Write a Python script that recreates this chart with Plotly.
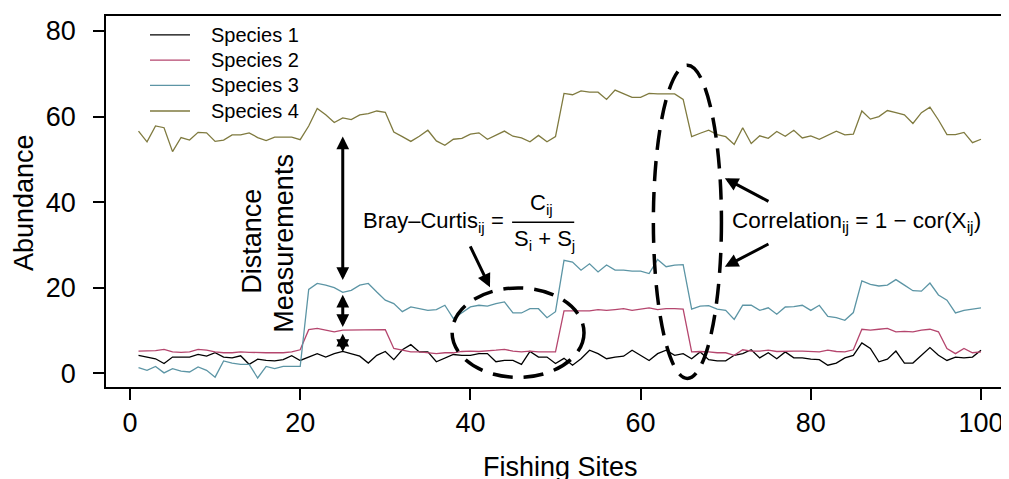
import plotly.graph_objects as go

sites = list(range(1, 101))

species1 = [4.2, 3.8, 3.4, 2.3, 3.8, 3.8, 3.8, 4.4, 4.0, 4.8,
            3.8, 3.6, 4.1, 2.1, 3.3, 3.0, 2.9, 3.2, 4.1, 3.0,
            3.8, 4.6, 3.8, 4.6, 5.1, 4.6, 4.0, 2.4, 4.2, 5.1,
            3.2, 5.5, 6.7, 5.0, 5.0, 2.7, 3.6, 4.4, 4.2, 4.2,
            4.6, 4.6, 2.7, 3.0, 3.0, 2.1, 5.1, 3.8, 3.8, 2.3,
            3.5, 1.9, 3.4, 5.4, 4.6, 3.4, 3.8, 4.0, 5.4, 4.2,
            3.0, 4.6, 5.4, 4.2, 4.6, 3.4, 5.0, 3.2, 2.9, 2.9,
            4.2, 4.6, 5.5, 3.6, 4.8, 3.4, 5.0, 3.6, 3.6, 3.3,
            3.2, 1.9, 2.4, 3.6, 4.2, 7.1, 5.8, 2.7, 3.3, 5.2,
            2.4, 2.4, 4.2, 6.0, 4.2, 3.0, 3.8, 3.6, 3.8, 5.4]

species2 = [5.2, 5.2, 5.3, 5.6, 5.0, 4.9, 5.0, 5.6, 5.4, 5.0,
            4.8, 4.8, 5.0, 4.9, 4.8, 4.8, 4.8, 4.8, 5.0, 5.5,
            10.2, 10.5, 10.1, 9.7, 10.1, 10.1, 10.1, 10.1, 10.1, 10.2,
            5.8, 5.4, 5.0, 5.0, 4.8, 4.6, 4.8, 4.8, 5.1, 5.2,
            5.1, 5.2, 5.4, 5.6, 5.2, 5.0, 5.2, 5.0, 5.0, 5.0,
            14.6, 14.6, 14.7, 14.6, 14.9, 14.7, 14.9, 15.1, 14.7, 15.0,
            15.3, 14.9, 15.1, 15.1, 15.0, 5.0, 5.1, 5.0, 4.8, 4.8,
            4.2, 5.5, 5.2, 5.2, 5.4, 5.1, 5.2, 5.2, 5.2, 5.1,
            5.0, 5.4, 5.1, 5.0, 5.5, 10.3, 10.1, 10.3, 10.5, 9.7,
            9.8, 9.7, 10.1, 10.3, 9.7, 5.8, 4.6, 5.8, 4.8, 5.0]

species3 = [1.3, 0.7, 1.6, 0.1, 1.1, 0.5, 0.3, 1.5, 0.7, -0.9,
            2.9, 2.4, 2.1, 2.1, -1.1, 1.6, 1.1, 1.6, 1.6, 1.6,
            19.6, 21.0, 20.6, 20.0, 18.9, 19.4, 20.6, 21.0, 19.0, 17.1,
            16.3, 14.4, 15.5, 15.1, 14.7, 14.9, 15.9, 12.8, 14.1, 15.5,
            15.9, 15.7, 16.3, 16.7, 14.1, 14.1, 15.1, 15.1, 13.0, 14.4,
            26.4, 26.0, 24.1, 25.6, 23.7, 25.3, 24.1, 24.1, 23.9, 23.9,
            23.3, 26.6, 24.9, 25.3, 25.4, 15.0, 15.7, 15.8, 15.0, 14.7,
            12.6, 15.9, 15.9, 14.7, 15.3, 13.8, 15.5, 15.6, 15.9, 14.7,
            15.9, 13.3, 13.0, 12.4, 14.2, 21.6, 20.8, 20.4, 20.6, 21.9,
            20.6, 19.3, 19.2, 21.1, 18.3, 17.1, 14.1, 14.7, 15.0, 15.3]

species4 = [56.6, 54.1, 57.8, 57.4, 51.8, 55.1, 54.5, 56.3, 56.2, 54.2,
            54.5, 55.7, 55.7, 56.2, 55.1, 54.4, 55.2, 55.2, 55.2, 54.6,
            57.8, 61.9, 60.4, 58.6, 59.7, 59.3, 60.4, 60.7, 61.3, 61.0,
            56.4, 55.3, 54.2, 55.4, 56.8, 54.3, 53.3, 54.7, 54.9, 55.9,
            56.2, 54.7, 55.6, 56.6, 55.4, 55.0, 54.1, 55.6, 54.1, 55.3,
            65.4, 65.1, 66.0, 65.7, 65.7, 64.0, 66.2, 65.4, 64.5, 64.5,
            65.4, 65.3, 65.3, 65.3, 64.0, 55.3, 56.1, 56.8, 55.8, 55.3,
            53.5, 57.4, 53.7, 55.5, 54.9, 56.5, 55.4, 56.8, 55.0, 55.5,
            54.7, 55.6, 56.6, 55.7, 55.9, 61.3, 59.4, 60.0, 61.4, 60.9,
            60.4, 58.4, 60.9, 62.2, 59.2, 55.8, 55.8, 56.3, 53.9, 54.7]

series_names = ["Species 1", "Species 2", "Species 3", "Species 4"]
series_values = [species1, species2, species3, species4]
series_colors = ["#000000", "#B5466E", "#5C95A5", "#7F7A3F"]

x_ticks = [0, 20, 40, 60, 80, 100]
y_ticks = [0, 20, 40, 60, 80]

FONT = "Liberation Sans, Arial, Helvetica, sans-serif"

fig = go.Figure()
for name, vals, col in zip(series_names, series_values, series_colors):
    fig.add_trace(go.Scatter(x=sites, y=vals, mode="lines", name=name,
                             line=dict(color=col, width=1.3), showlegend=False))

# manual legend (R style)
leg_y = [79.1, 73.2, 67.3, 61.3]
for name, col, yy in zip(series_names, series_colors, leg_y):
    fig.add_shape(type="line", x0=2.35, x1=7.05, y0=yy, y1=yy, xref="x", yref="y",
                  line=dict(color=col, width=1.3))
    fig.add_annotation(x=9.3, y=yy, xref="x", yref="y", text=name, showarrow=False,
                       xanchor="left", yanchor="middle",
                       font=dict(family=FONT, size=20, color="black"))

# dashed ellipses
fig.add_shape(type="circle", xref="x", yref="y", x0=45.6 - 7.75, x1=45.6 + 7.75,
              y0=9.5 - 10.45, y1=9.5 + 10.45,
              line=dict(color="black", width=3.5, dash="20px,11px"))
fig.add_shape(type="circle", xref="x", yref="y", x0=65.5 - 4.0, x1=65.5 + 4.0,
              y0=35.4 - 36.6, y1=35.4 + 36.6,
              line=dict(color="black", width=3.5, dash="20px,11px"))

# double-headed arrows (distance measurements)
for y_top, y_bot in [(55.7, 21.8), (18.7, 10.8), (9.6, 5.0)]:
    fig.add_annotation(x=25, y=y_bot, ax=25, ay=y_top, xref="x", yref="y",
                       axref="x", ayref="y", text="", showarrow=True,
                       arrowhead=2, startarrowhead=2, arrowside="end+start",
                       arrowsize=0.85, startarrowsize=0.85, arrowwidth=3, arrowcolor="black")

# single arrows
for tip, tail in [((42.3, 20.1), (39.9, 30.0)),
                  ((69.9, 45.6), (75.2, 40.0)),
                  ((69.9, 24.9), (75.2, 30.4))]:
    fig.add_annotation(x=tip[0], y=tip[1], ax=tail[0], ay=tail[1], xref="x", yref="y",
                       axref="x", ayref="y", text="", showarrow=True,
                       arrowhead=2, arrowsize=0.9, arrowwidth=3, arrowcolor="black")

# Distance Measurements text
fig.add_annotation(x=14.3, y=30.9, xref="x", yref="y", text="Distance", showarrow=False,
                   textangle=-90, font=dict(family=FONT, size=27, color="black"))
fig.add_annotation(x=18.1, y=30.3, xref="x", yref="y", text="Measurements", showarrow=False,
                   textangle=-90, font=dict(family=FONT, size=27, color="black"))

# Bray-Curtis formula
fig.add_annotation(x=44.2, y=35.4, xref="x", yref="y", text="Bray–Curtis<sub>ij</sub> =",
                   showarrow=False, xanchor="right", yanchor="middle",
                   font=dict(family=FONT, size=22, color="black"))
fig.add_shape(type="line", xref="x", yref="y", x0=44.9, x1=52.2, y0=35.3, y1=35.3,
              line=dict(color="black", width=1.5))
fig.add_annotation(x=48.4, y=39.5, xref="x", yref="y", text="C<sub>ij</sub>",
                   showarrow=False, font=dict(family=FONT, size=22, color="black"))
fig.add_annotation(x=48.7, y=31.1, xref="x", yref="y", text="S<sub>i</sub> + S<sub>j</sub>",
                   showarrow=False, font=dict(family=FONT, size=22, color="black"))

# Correlation formula
fig.add_annotation(x=70.5, y=35.4, xref="x", yref="y",
                   text="Correlation<sub>ij</sub> = 1 − cor(X<sub>ij</sub>)",
                   showarrow=False, xanchor="left", yanchor="middle",
                   font=dict(family=FONT, size=22.5, color="black"))

# axis titles
fig.add_annotation(x=50.6, y=-0.215, xref="x", yref="paper", text="Fishing Sites",
                   showarrow=False, xanchor="center", yanchor="middle",
                   font=dict(family=FONT, size=27, color="black"))
fig.add_annotation(x=-0.0908, y=0.496, xref="paper", yref="paper", text="Abundance",
                   showarrow=False, textangle=-90, xanchor="center", yanchor="middle",
                   font=dict(family=FONT, size=27, color="black"))

axis_common = dict(showgrid=False, zeroline=False, showline=True, linecolor="black",
                   linewidth=1.5, ticks="outside", ticklen=11, tickwidth=1.5,
                   tickcolor="black", tickfont=dict(family=FONT, size=27, color="black"))

fig.update_xaxes(range=[-2.82, 103.29], tickvals=x_ticks, mirror=True,
                 ticklabelstandoff=0, **axis_common)
fig.update_yaxes(range=[-3.2, 83.5], tickvals=y_ticks, mirror=False,
                 ticklabelstandoff=12, **axis_common)

# page body has an 8px margin, so the figure is sized/offset to land on the window
fig.update_layout(width=1001, height=471, margin=dict(l=98, r=0, t=8, b=92),
                  plot_bgcolor="white", paper_bgcolor="white",
                  font=dict(family=FONT, color="black"))

fig.write_html("out.html")
